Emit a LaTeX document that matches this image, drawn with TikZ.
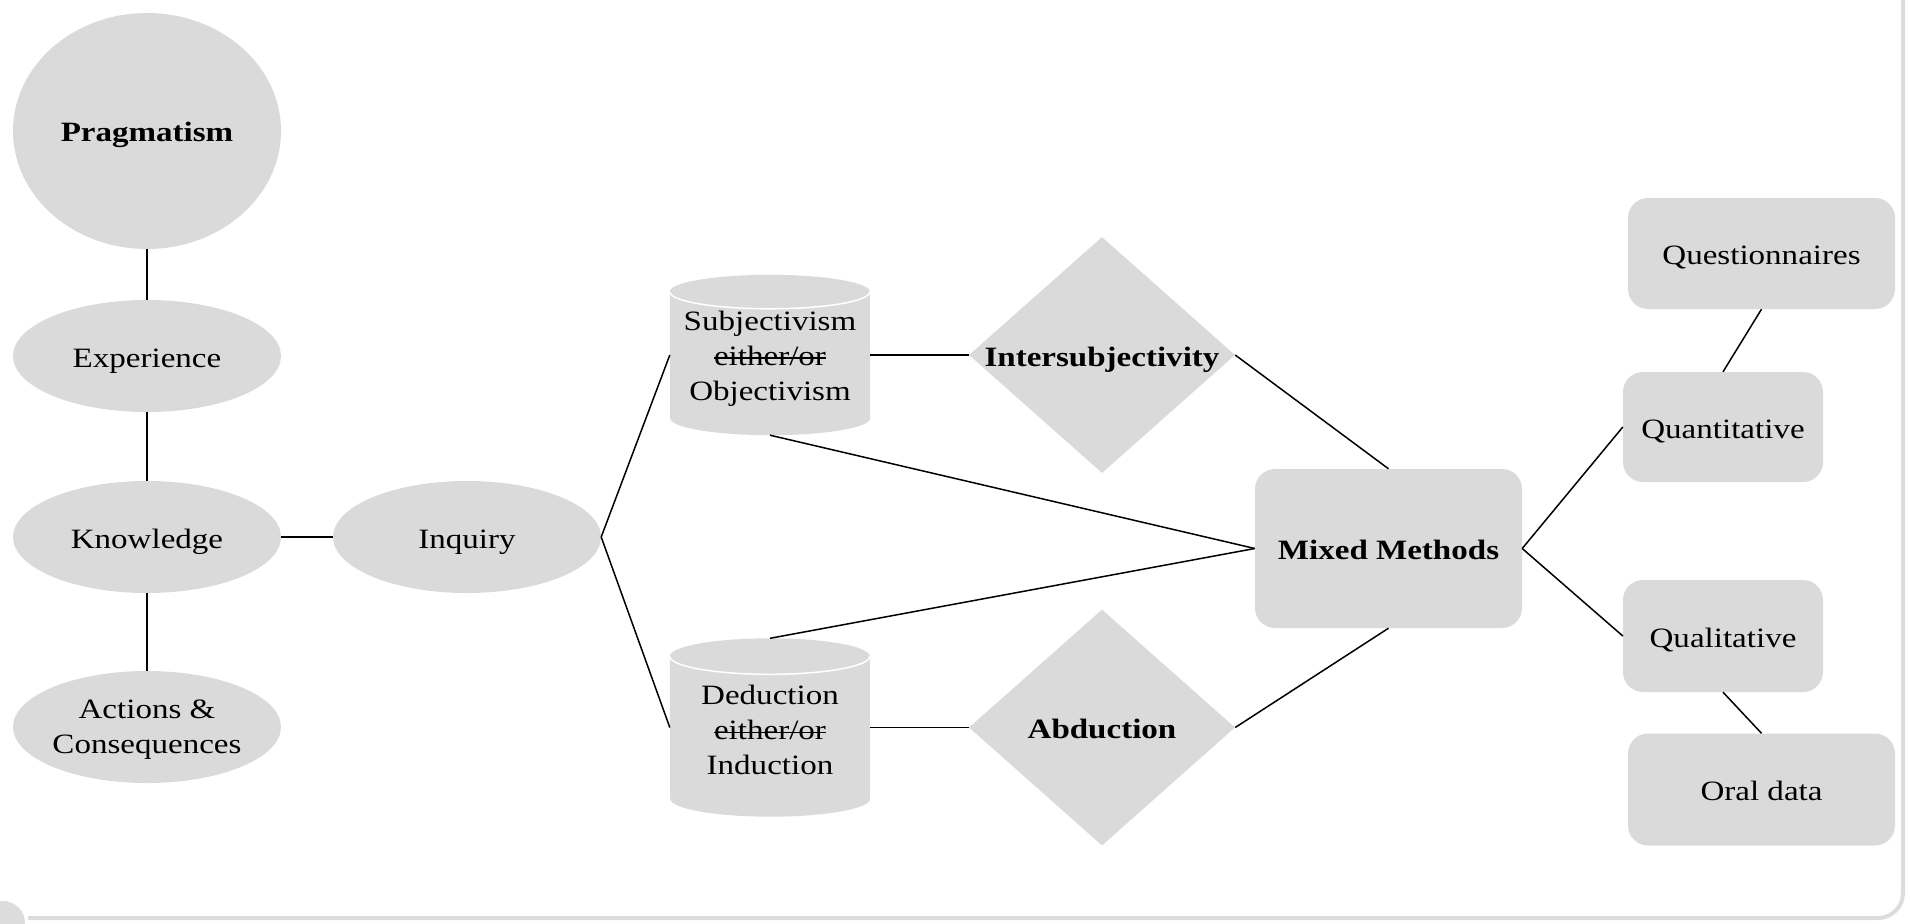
\documentclass[tikz,border=0pt]{standalone}
\usepackage{fontspec}
\setmainfont{Liberation Serif}[FakeStretch=1.18]
\newcommand{\mystrike}[1]{\leavevmode\setbox0=\hbox{#1}\rlap{\copy0}\rule[0.24em]{\wd0}{1.6pt}}
\usetikzlibrary{shapes.geometric,backgrounds,calc}
\definecolor{gfill}{HTML}{DADADA}
\definecolor{framec}{HTML}{DCDCDC}
\begin{document}
\begin{tikzpicture}[x=1pt,y=-1pt,
  every node/.style={font=\fontsize{28}{35}\selectfont, align=center, inner sep=0pt},
  one/.style={text height=22pt, text depth=0pt},
  ell/.style={ellipse, fill=gfill, minimum width=268, minimum height=112},
  diam/.style={diamond, fill=gfill, minimum width=266, minimum height=236},
  bold/.style={font=\fontsize{28}{35}\selectfont\bfseries},
  rbox/.style={rectangle, rounded corners=20, fill=gfill},
  cylbox/.style={rectangle, minimum width=200},
  conn/.style={line width=1.5, black}]
\useasboundingbox (0,0) rectangle (1910,923);

% frame
\draw[framec, line width=4, rounded corners=25] (28,918) -- (1903,918) -- (1903,0);
\fill[framec] (3,923) circle (22);

% left column
\node[ell, one, minimum height=236, bold] (prag) at (147,131) {Pragmatism};
\node[ell, one] (exp) at (147,356) {Experience};
\node[ell, one] (know) at (147,537) {Knowledge};
\node[ell] (act) at (147,727) {\rule{0pt}{24pt}Actions \&\\Consequences};
\node[ell, one] (inq) at (467,537) {Inquiry};

% cylinders
\node[cylbox, minimum height=160] (c1) at (770,355) {\rule{0pt}{27pt}Subjectivism\\\mystrike{either/or}\\Objectivism};
\node[cylbox, minimum height=178] (c2) at (770,727.5) {\rule{0pt}{25pt}Deduction\\\mystrike{either/or}\\Induction};
\begin{scope}[on background layer]
\foreach \c/\r in {c1/17,c2/18} {
  \fill[gfill] ($(\c.north west)+(0,\r)$) arc[start angle=180,end angle=360,x radius=100,y radius=\r]
     -- ($(\c.south east)+(0,-\r)$) arc[start angle=0,end angle=180,x radius=100,y radius=\r] -- cycle;
  \draw[white, line width=1.5] ($(\c.north west)+(0,\r)$) arc[start angle=180,end angle=0,x radius=100,y radius=\r];
}
\end{scope}

% diamonds
\node[diam, label={[bold, one]center:Intersubjectivity}] (d1) at (1102,355) {};
\node[diam, label={[bold, one]center:Abduction}] (d2) at (1102,727.5) {};

% boxes
\node[rbox, bold, one, minimum width=267, minimum height=159] (mm) at (1388.5,548.5) {Mixed Methods};
\node[rbox, one, minimum width=267, minimum height=111] (quest) at (1761.5,253.5) {Questionnaires};
\node[rbox, one, minimum width=200, minimum height=110] (quant) at (1723,427) {Quantitative};
\node[rbox, one, minimum width=200, minimum height=112] (qual) at (1723,636) {Qualitative};
\node[rbox, one, minimum width=267, minimum height=112] (oral) at (1761.5,789.5) {Oral data};

% connectors
\draw[conn] (prag) -- (exp);
\draw[conn] (exp) -- (know);
\draw[conn] (know) -- (act);
\draw[conn] (know) -- (inq);
\draw[conn] (inq.east) -- (c1.west);
\draw[conn] (inq.east) -- (c2.west);
\draw[conn] (c1.east) -- (d1.west);
\draw[conn] (c2.east) -- (d2.west);
\draw[conn] (d1.east) -- (mm.north);
\draw[conn] (d2.east) -- (mm.south);
\draw[conn] (c1.south) -- (mm.west);
\draw[conn] (c2.north) -- (mm.west);
\draw[conn] (mm.east) -- (quant.west);
\draw[conn] (mm.east) -- (qual.west);
\draw[conn] (quant.north) -- (quest.south);
\draw[conn] (qual.south) -- (oral.north);
\end{tikzpicture}
\end{document}
